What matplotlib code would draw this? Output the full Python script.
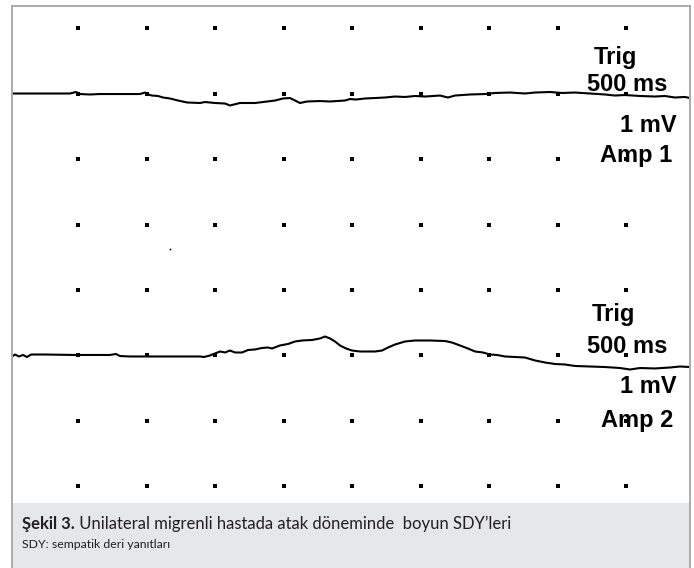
import numpy as np
import matplotlib
matplotlib.use("Agg")
import matplotlib.pyplot as plt
from matplotlib.patches import Rectangle

# scope settings: 500 ms / div, 1 mV / div
sec_per_div = 0.5
mv_per_div = 1.0

# trace 1 (Amp 1): time (s) and amplitude (mV) relative to its baseline
t1 = [0.000, 0.423, 0.467, 0.496, 0.569, 0.642, 0.934, 0.971, 0.993, 1.022,
      1.066, 1.102, 1.153, 1.212, 1.277, 1.372, 1.409, 1.482, 1.555, 1.591,
      1.620, 1.664, 1.774, 1.832, 1.920, 1.978, 2.029, 2.066, 2.102, 2.153,
      2.248, 2.321, 2.431, 2.467, 2.511, 2.577, 2.650, 2.723, 2.796, 2.869,
      2.942, 3.015, 3.124, 3.182, 3.234, 3.343, 3.453, 3.526, 3.635, 3.745,
      3.818, 3.927, 4.015, 4.109, 4.219, 4.328, 4.401, 4.474, 4.584, 4.693,
      4.766, 4.839, 4.912, 4.949]
v1 = [0.000, 0.000, 0.023, -0.008, -0.015, -0.008, -0.008, 0.015, -0.015, -0.031,
      -0.038, -0.061, -0.076, -0.107, -0.137, -0.145, -0.130, -0.145, -0.153, -0.183,
      -0.168, -0.145, -0.145, -0.130, -0.107, -0.076, -0.069, -0.107, -0.145, -0.122,
      -0.115, -0.122, -0.107, -0.084, -0.092, -0.076, -0.069, -0.061, -0.046, -0.053,
      -0.038, -0.046, -0.031, -0.061, -0.031, -0.015, -0.008, 0.008, 0.015, 0.000,
      0.015, 0.023, 0.008, 0.015, 0.000, -0.015, -0.031, -0.023, -0.038, -0.046,
      -0.038, -0.061, -0.053, -0.069]

# trace 2 (Amp 2)
t2 = [0.000, 0.022, 0.051, 0.080, 0.109, 0.139, 0.241, 0.460, 0.715, 0.759,
      0.788, 0.861, 1.080, 1.372, 1.401, 1.445, 1.482, 1.518, 1.555, 1.591,
      1.628, 1.679, 1.723, 1.774, 1.825, 1.869, 1.898, 1.956, 2.015, 2.066,
      2.117, 2.190, 2.248, 2.285, 2.321, 2.358, 2.394, 2.438, 2.482, 2.540,
      2.650, 2.701, 2.745, 2.796, 2.869, 2.942, 3.051, 3.161, 3.212, 3.270,
      3.328, 3.380, 3.438, 3.489, 3.540, 3.599, 3.672, 3.745, 3.818, 3.891,
      3.964, 4.036, 4.109, 4.219, 4.328, 4.438, 4.511, 4.584, 4.693, 4.803,
      4.876, 4.949]
v2 = [-0.015, 0.015, -0.015, 0.008, -0.023, 0.015, 0.015, 0.008, 0.008, 0.023,
      -0.008, -0.015, -0.015, -0.015, -0.023, 0.000, 0.031, 0.061, 0.046, 0.076,
      0.046, 0.046, 0.084, 0.092, 0.115, 0.122, 0.107, 0.153, 0.176, 0.214,
      0.229, 0.237, 0.260, 0.290, 0.260, 0.214, 0.153, 0.107, 0.076, 0.061,
      0.061, 0.076, 0.122, 0.168, 0.214, 0.229, 0.229, 0.221, 0.198, 0.153,
      0.107, 0.061, 0.046, 0.015, 0.008, -0.015, -0.023, -0.031, -0.076, -0.107,
      -0.130, -0.137, -0.160, -0.168, -0.176, -0.191, -0.214, -0.191, -0.198, -0.183,
      -0.168, -0.176]

# screen grid: dot columns (s) and rows (div)
grid_t = [0.482 + 0.5 * k for k in range(9)]
grid_rows = [8, 7, 6, 5, 4, 3, 2, 1]
baseline1 = 7
baseline2 = 3

labels1 = ["Trig", "500 ms", "1 mV", "Amp 1"]
labels2 = ["Trig", "500 ms", "1 mV", "Amp 2"]
caption_bold = "Şekil 3."
caption_rest = " Unilateral migrenli hastada atak döneminde  boyun SDY’leri"
caption_note = "SDY: sempatik deri yanıtları"

W, H = 694, 568
fig = plt.figure(figsize=(W / 100, H / 100), dpi=100)

def fx(x):
    return x / W

def fy(y):
    return 1 - y / H

# frame and caption band
band = Rectangle((fx(12), 0), fx(690) - fx(12), fy(503), transform=fig.transFigure,
                 facecolor="#e6e7e8", edgecolor="none", zorder=0)
fig.patches.append(band)
for xs, ys in [([12, 12], [6, 568]), ([12, 690], [6, 6]), ([690, 690], [6, 568])]:
    fig.add_artist(plt.Line2D([fx(v) for v in xs], [fy(v) for v in ys],
                              color="#ababab", lw=1.4, transform=fig.transFigure))

ax = fig.add_axes([fx(12), fy(503), fx(690) - fx(12), fy(6) - fy(503)])
ax.set_xlim(0, 4.949)
ax.set_ylim(0.748, 8.336)
ax.axis("off")

gx, gy = np.meshgrid(grid_t, grid_rows)
ax.plot(gx.ravel(), gy.ravel(), "s", color="black", markersize=2.4, mew=0)
ax.plot([1.153], [4.62], "s", color="black", markersize=1.2, mew=0)

ax.plot(t1, baseline1 + np.array(v1) / mv_per_div, color="black", lw=1.5)
ax.plot(t2, baseline2 + np.array(v2) / mv_per_div, color="black", lw=1.5)

lab_font = dict(family="Liberation Sans", fontweight="bold", fontsize=17, color="black")
right1 = [637, 667, 677, 672]
base1 = [64, 91, 132, 162]
right2 = [635, 667, 677, 673]
base2 = [321, 353, 393, 427]
for s, xr, yb in zip(labels1, right1, base1):
    fig.text(fx(xr), fy(yb), s, ha="right", va="baseline", **lab_font)
for s, xr, yb in zip(labels2, right2, base2):
    fig.text(fx(xr), fy(yb), s, ha="right", va="baseline", **lab_font)

cap_font = dict(family="Lato", color="#231f20")
tb = fig.text(fx(22), fy(529), caption_bold, ha="left", va="baseline",
              fontsize=12, fontweight="bold", **cap_font)
fig.canvas.draw()
bb = tb.get_window_extent()
fig.text(bb.x1 / W, fy(529), caption_rest, ha="left", va="baseline",
         fontsize=12, **cap_font)
fig.text(fx(22), fy(548), caption_note, ha="left", va="baseline",
         fontsize=8.8, **cap_font)

fig.savefig("out.png", dpi=100)
